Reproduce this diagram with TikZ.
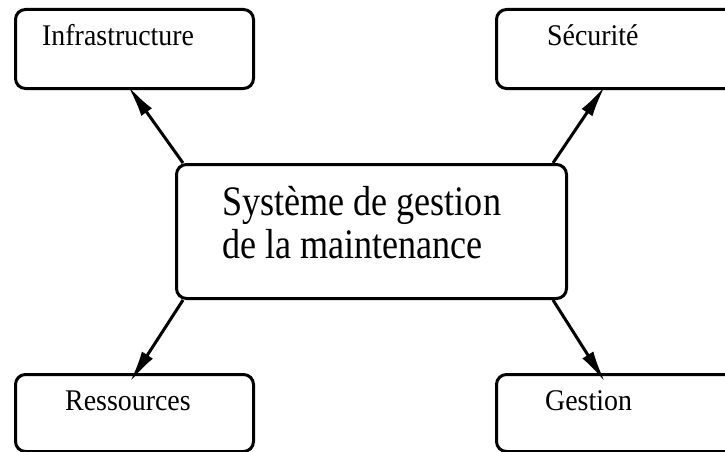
\documentclass[tikz,border=0pt]{standalone}
\usepackage{fontspec}
\setmainfont{Liberation Serif}
\newfontfamily\hubfont[FakeStretch=0.86]{Liberation Serif}
\newfontfamily\lblfont[FakeStretch=0.93]{Liberation Serif}
\usetikzlibrary{arrows.meta,calc}
\tikzset{
  box/.style={draw, line width=3pt, rounded corners=10pt, inner sep=0pt, anchor=north west},
  lbl/.style={anchor=base west, inner sep=0pt, font=\lblfont\fontsize{30}{34}\selectfont},
  link/.style={line width=3pt, -{Latex[length=32pt,width=13pt]}}
}
\begin{document}
\begin{tikzpicture}[x=1pt,y=-1pt]
\useasboundingbox (0,0) rectangle (725,452);
\clip (0,0) rectangle (725,452);

% boxes
\node[box, minimum width=238pt, minimum height=79pt] (infra) at (14,8) {};
\node[box, minimum width=260pt, minimum height=79pt] (secu) at (495,8) {};
\node[box, minimum width=390pt, minimum height=134pt] (hub) at (175,163) {};
\node[box, minimum width=238pt, minimum height=77pt] (res) at (14,373) {};
\node[box, minimum width=260pt, minimum height=77pt] (gest) at (495,373) {};

% labels
\node[lbl] (tinfra) at (42,46) {Infrastructure};
\node[lbl] (tsecu) at (547,46) {Sécurité};
\node[lbl] (tres) at (65,410) {Ressources};
\node[lbl] (tgest) at (545,410) {Gestion};
% the base anchor of a two-line node sits on its last line
\node[anchor=base west, inner sep=0pt, align=left,
      font=\hubfont\fontsize{42}{43}\selectfont] (thub) at (222,258)
  {Système de gestion\\de la maintenance};

% connectors
\draw[link] ($(hub.north west)+(8,0)$) -- ($(infra.south west)+(114,-4)$);
\draw[link] ($(hub.north east)+(-15,0)$) -- ($(secu.south west)+(110,-4)$);
\draw[link] ($(hub.south west)+(8,0)$) -- ($(res.north west)+(116,9)$);
\draw[link] ($(hub.south east)+(-15,0)$) -- ($(gest.north west)+(110,9)$);
\end{tikzpicture}
\end{document}
